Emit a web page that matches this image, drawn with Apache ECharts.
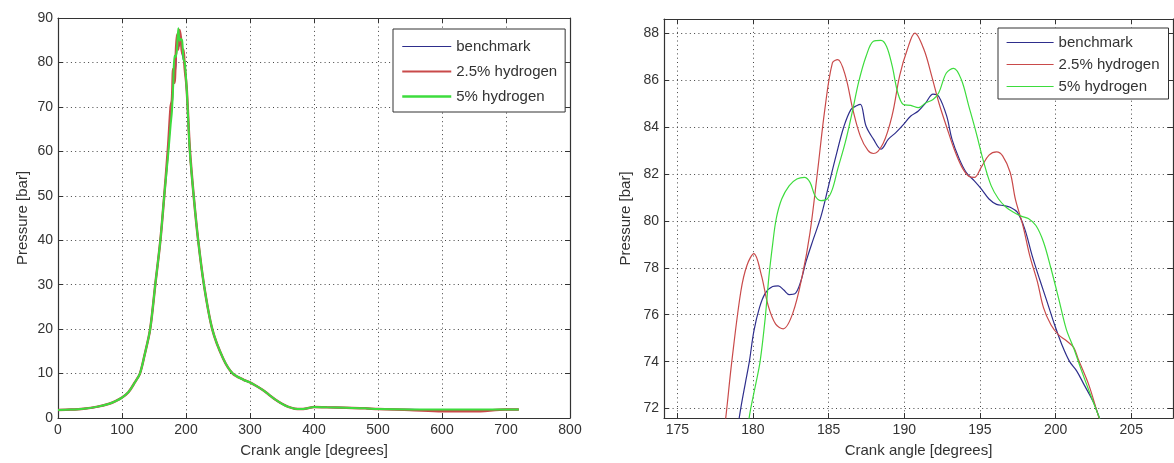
<!DOCTYPE html>
<html><head><meta charset="utf-8">
<script src="https://cdn.jsdelivr.net/npm/echarts@6/dist/echarts.min.js"></script>
<style>html,body{margin:0;padding:0;background:#fff}#c{width:1174px;height:463px}</style>
</head><body><div id="c"></div>
<script>
// ---------- DATA ----------
const seriesNames = ['benchmark', '2.5% hydrogen', '5% hydrogen'];

// Left chart: whole cycle
const leftAngle = [0,20,40,60,80,90,100,110,120,128,135,144,152,160,166,172,176,178,180,182,184,186,188,190,192,194,196,198,201,206,212,219,228,241,258,273,290,300,310,320,330,340,350,360,370,380,390,400,420,450,480,500,550,600,650,700,720];
const leftBench = [1.8,1.9,2.1,2.5,3.2,3.8,4.6,5.8,8,10,14,20,30,40,50,60,68,70,75.6,77.0,79.2,84.0,83.5,84.2,85.3,82.1,80.7,79.3,73.8,60,50,40,30,20,13.4,10,8.6,8,7.2,6.3,5.2,4.1,3.2,2.5,2.1,2.0,2.2,2.5,2.4,2.3,2.2,2.0,1.9,1.8,1.8,1.9,1.9];
const leftH25 = [1.8,1.9,2.1,2.5,3.2,3.8,4.6,5.8,8,10,14,20,30,40,50,61,70,71.5,78.5,75.4,81.5,86.3,82.9,87.3,85.5,82.0,82.9,78.7,74.4,60.5,50,40,30,20,13.4,10,8.6,8,7.2,6.3,5.2,4.1,3.2,2.5,2.1,2.0,2.2,2.5,2.4,2.3,2.2,2.0,1.8,1.5,1.5,1.9,1.9];
const leftH5 = [1.8,1.9,2.1,2.5,3.2,3.8,4.6,5.8,8,10,14,20,30,40,50,59,66,69,74.8,81.5,81.2,83.2,87.7,84.9,85.3,84.9,80.8,80.1,74.3,60,50,40,30,20,13.4,10,8.6,8,7.2,6.3,5.2,4.1,3.2,2.5,2.1,2.0,2.2,2.5,2.4,2.3,2.2,2.0,1.9,1.9,1.9,1.9,1.9];
const leftXTicks = [0,100,200,300,400,500,600,700,800];
const leftYTicks = [0,10,20,30,40,50,60,70,80,90];

// Right chart: zoom around the peak
const rightBenchAngle = [178.9,179.19,179.5,179.76,180.06,180.43,180.8,181.3,181.67,182.04,182.4,182.78,183.15,183.5,184.0,184.5,185.0,185.5,186.0,186.48,186.85,187.1,187.47,187.96,188.46,188.95,189.44,189.94,190.43,190.93,191.42,191.9,192.28,192.8,193.15,193.64,194.1,194.63,195.1,195.6,196.1,196.6,197.0,197.47,197.96,198.46,198.95,199.44,199.94,200.43,200.93,201.4,201.9,202.53,202.9,203.4];
const rightBench = [70.8,72.0,73.1,74.0,75.3,76.3,76.9,77.2,77.23,77.05,76.86,76.9,77.4,78.25,79.24,80.2,81.5,82.8,84.0,84.75,84.9,84.96,84.04,83.48,83.05,83.48,83.76,84.1,84.47,84.68,85.03,85.4,85.3,84.47,83.48,82.63,82.06,81.7,81.35,80.93,80.7,80.65,80.58,80.37,79.66,78.5,77.5,76.55,75.56,74.7,74.0,73.6,73.0,72.24,71.6,70.9];
const rightH25Angle = [177.7,178.2,178.6,179.2,179.6,180.06,180.55,181.0,181.5,182.0,182.65,183.27,183.77,184.26,184.75,185.25,185.6,186.1,186.6,187.1,187.6,187.96,188.6,189.2,189.7,190.2,190.7,191.3,191.8,192.3,192.8,193.3,193.8,194.26,194.63,195.1,195.6,196.1,196.5,197.0,197.35,197.84,198.3,198.8,199.2,199.7,200.2,200.7,201.2,201.5,202.2,202.8,203.4];
const rightH25 = [69.0,71.6,74.0,77.0,78.1,78.6,77.7,76.4,75.6,75.4,76.1,77.7,79.5,82.06,84.75,86.73,86.87,86.2,84.75,83.6,83.0,82.87,83.3,84.5,86.2,87.3,88.0,87.3,86.2,85.0,84.0,83.05,82.3,81.9,81.85,82.3,82.8,82.94,82.77,82.06,80.9,79.8,78.5,77.4,76.3,75.56,75.14,74.9,74.6,74.1,73.0,71.75,70.6];
const rightH5Angle = [179.6,179.85,180.2,180.47,180.8,181.05,181.3,181.54,181.9,182.4,182.9,183.4,183.77,184.1,184.5,184.9,185.25,185.6,186.1,186.6,186.98,187.47,187.96,188.46,188.83,189.2,189.57,189.94,190.43,190.93,191.42,191.9,192.28,192.78,193.27,193.77,194.26,194.75,195.25,195.74,196.23,196.73,197.22,197.72,198.2,198.7,199.2,199.7,200.2,200.7,201.2,201.67,202.3,202.9,203.4];
const rightH5 = [71.0,72.0,73.1,74.0,75.8,77.6,79.0,80.1,80.93,81.5,81.78,81.85,81.64,81.07,80.86,80.93,81.35,82.2,83.34,84.75,85.9,87.0,87.65,87.69,87.43,86.6,85.46,84.96,84.92,84.82,85.03,85.17,85.46,86.3,86.5,86.02,84.9,83.76,82.5,81.5,80.93,80.58,80.37,80.2,80.1,79.8,79.1,77.96,76.7,75.4,74.57,73.7,72.6,71.6,70.8];
const rightXTicks = [175,180,185,190,195,200,205];
const rightYTicks = [72,74,76,78,80,82,84,86,88];

// ---------- STYLE ----------
const FONT = "'Liberation Sans', Arial, Helvetica, sans-serif";
const C_BENCH = '#2e2e8c', C_H25 = '#c94a4a', C_H5 = '#3ddc3d';
const AXIS_LINE = {show: true, onZero: false, lineStyle: {color: '#333', width: 1.2}};
const GRID_LINE = {show: true, lineStyle: {color: '#444', width: 1, type: [1, 3.3]}};

function zip(a, b) { return a.map((v, i) => [v, b[i]]); }

function mainAxis(gridIndex, pos, min, max, ticks, name, nameGap, useCustom) {
  const ax = {
    type: 'value', gridIndex, position: pos, min, max,
    name, nameLocation: 'middle', nameGap,
    nameTextStyle: {fontFamily: FONT, fontSize: 15, color: '#333'},
    axisLine: AXIS_LINE,
    axisTick: {show: true, inside: true, length: 5, lineStyle: {color: '#333', width: 1}},
    axisLabel: {fontFamily: FONT, fontSize: 14, color: '#333', margin: 5},
    splitLine: GRID_LINE
  };
  if (useCustom) {
    ax.axisTick.customValues = ticks;
    ax.axisLabel.customValues = ticks;
  } else {
    ax.interval = ticks[1] - ticks[0];
  }
  return ax;
}
function mirrorAxis(gridIndex, pos, min, max, ticks, useCustom) {
  const ax = {
    type: 'value', gridIndex, position: pos, min, max,
    axisLine: AXIS_LINE,
    axisTick: {show: true, inside: true, length: 5, lineStyle: {color: '#333', width: 1}},
    axisLabel: {show: false},
    splitLine: {show: false}
  };
  if (useCustom) {
    ax.axisTick.customValues = ticks;
  } else {
    ax.interval = ticks[1] - ticks[0];
  }
  return ax;
}

const lx = [leftXTicks[0], leftXTicks[leftXTicks.length - 1]];
const ly = [leftYTicks[0], leftYTicks[leftYTicks.length - 1]];
const RX = [174.12, 207.76], RY = [71.6, 88.6];

function legendData(widths) {
  const cols = [C_BENCH, C_H25, C_H5];
  return seriesNames.map((n, i) => ({
    name: n,
    lineStyle: {color: cols[i], width: widths[i]},
    itemStyle: {color: 'rgba(0,0,0,0)', opacity: 0, borderWidth: 0, borderColor: 'rgba(0,0,0,0)'}
  }));
}

const option = {
  backgroundColor: '#fff',
  animation: false,
  grid: [
    {left: 58, top: 18, width: 512, height: 402, containLabel: false},
    {left: 664, top: 19, width: 509, height: 401, containLabel: false}
  ],
  xAxis: [
    mainAxis(0, 'bottom', lx[0], lx[1], leftXTicks, 'Crank angle [degrees]', 25, false),
    mirrorAxis(0, 'top', lx[0], lx[1], leftXTicks, false),
    mainAxis(1, 'bottom', RX[0], RX[1], rightXTicks, 'Crank angle [degrees]', 25, true),
    mirrorAxis(1, 'top', RX[0], RX[1], rightXTicks, true)
  ],
  yAxis: [
    mainAxis(0, 'left', ly[0], ly[1], leftYTicks, 'Pressure [bar]', 28, false),
    mirrorAxis(0, 'right', ly[0], ly[1], leftYTicks, false),
    mainAxis(1, 'left', RY[0], RY[1], rightYTicks, 'Pressure [bar]', 31, true),
    mirrorAxis(1, 'right', RY[0], RY[1], rightYTicks, true)
  ],
  legend: [
    {left: 393, top: 29, orient: 'vertical', itemWidth: 49, itemHeight: 12, itemGap: 10,
     padding: [10, 8, 8, 8], backgroundColor: '#fff', borderColor: '#333', borderWidth: 1, borderRadius: 0,
     textStyle: {fontFamily: FONT, fontSize: 15, color: '#333'}, selectedMode: false,
     data: legendData([1.2, 2, 2.5])},
    {left: 998, top: 28, orient: 'vertical', itemWidth: 47, itemHeight: 12, itemGap: 7,
     padding: [7, 9, 5, 8], backgroundColor: '#fff', borderColor: '#333', borderWidth: 1, borderRadius: 0,
     textStyle: {fontFamily: FONT, fontSize: 15, color: '#333'}, selectedMode: false,
     data: legendData([1.2, 1.2, 1.2])}
  ],
  series: [
    {name: seriesNames[0], type: 'line', xAxisIndex: 0, yAxisIndex: 0, data: zip(leftAngle, leftBench),
     symbol: 'none', smooth: 0.3, lineStyle: {color: C_BENCH, width: 1.5}, itemStyle: {color: C_BENCH}},
    {name: seriesNames[1], type: 'line', xAxisIndex: 0, yAxisIndex: 0, data: zip(leftAngle, leftH25),
     symbol: 'none', smooth: 0.3, lineStyle: {color: C_H25, width: 2.5}, itemStyle: {color: C_H25}},
    {name: seriesNames[2], type: 'line', xAxisIndex: 0, yAxisIndex: 0, data: zip(leftAngle, leftH5),
     symbol: 'none', smooth: 0.3, lineStyle: {color: C_H5, width: 2}, itemStyle: {color: C_H5}},
    {name: seriesNames[0], type: 'line', xAxisIndex: 2, yAxisIndex: 2, data: zip(rightBenchAngle, rightBench),
     symbol: 'none', smooth: 0.35, clip: true, lineStyle: {color: C_BENCH, width: 1.2}, itemStyle: {color: C_BENCH}},
    {name: seriesNames[1], type: 'line', xAxisIndex: 2, yAxisIndex: 2, data: zip(rightH25Angle, rightH25),
     symbol: 'none', smooth: 0.35, clip: true, lineStyle: {color: C_H25, width: 1.2}, itemStyle: {color: C_H25}},
    {name: seriesNames[2], type: 'line', xAxisIndex: 2, yAxisIndex: 2, data: zip(rightH5Angle, rightH5),
     symbol: 'none', smooth: 0.35, clip: true, lineStyle: {color: C_H5, width: 1.2}, itemStyle: {color: C_H5}}
  ]
};

const chart = echarts.init(document.getElementById('c'));
chart.setOption(option);
</script>
</body></html>
